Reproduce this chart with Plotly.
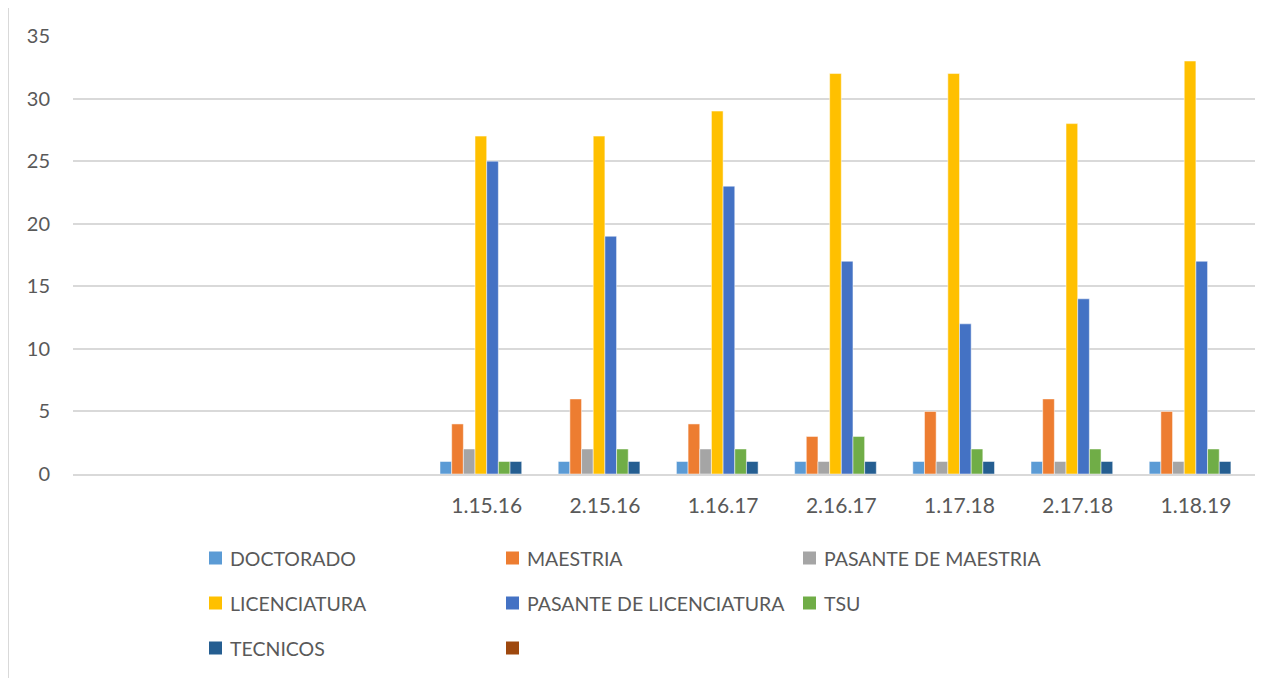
import plotly.graph_objects as go

# ---- data ----
categories = ["", " ", "  ", "1.15.16", "2.15.16", "1.16.17", "2.16.17", "1.17.18", "2.17.18", "1.18.19"]
series_names = ["DOCTORADO", "MAESTRIA", "PASANTE DE MAESTRIA", "LICENCIATURA",
                "PASANTE DE LICENCIATURA", "TSU", "TECNICOS", ""]
doctorado = [None, None, None, 1, 1, 1, 1, 1, 1, 1]
maestria = [None, None, None, 4, 6, 4, 3, 5, 6, 5]
pasante_maestria = [None, None, None, 2, 2, 2, 1, 1, 1, 1]
licenciatura = [None, None, None, 27, 27, 29, 32, 32, 28, 33]
pasante_licenciatura = [None, None, None, 25, 19, 23, 17, 12, 14, 17]
tsu = [None, None, None, 1, 2, 2, 3, 2, 2, 2]
tecnicos = [None, None, None, 1, 1, 1, 1, 1, 1, 1]
blank_series = [None, None, None, 0, 0, 0, 0, 0, 0, 0]
y_ticks = [0, 5, 10, 15, 20, 25, 30, 35]

series_values = [doctorado, maestria, pasante_maestria, licenciatura,
                 pasante_licenciatura, tsu, tecnicos, blank_series]
colors = ["#5B9BD5", "#ED7D31", "#A5A5A5", "#FFC000", "#4472C4", "#70AD47", "#255E91", "#9E480E"]

OFF = 8  # page body margin
W, H = 1266 - OFF, 678 - OFF
L, R, T, B = 73 - OFF, 11, 36 - OFF, 204
PW, PH = W - L - R, H - T - B
FONT = "Lato"
TXT = "#595959"


def px_x(x):
    return (x - OFF - L) / PW


def px_y(y):
    return (H - B - (y - OFF)) / PH


fig = go.Figure()
for name, vals, col in zip(series_names, series_values, colors):
    fig.add_trace(go.Bar(
        x=categories, y=vals, name=name if name else " ",
        marker=dict(color=col, line=dict(color="white", width=0.5 if name else 0)),
        showlegend=False,
    ))

shapes = [dict(type="rect", xref="paper", yref="paper",
               x0=px_x(8.5), x1=px_x(1266 + 20), y0=px_y(678 + 20), y1=px_y(7.5),
               line=dict(color="#D9D9D9", width=1), fillcolor="rgba(0,0,0,0)", layer="below")]
annotations = []

# legend laid out in three columns
col_x = [209, 506, 803]
row_y = [558, 603, 648]
msize = 13
for i, (name, col) in enumerate(zip(series_names, colors)):
    r, c = divmod(i, 3)
    mx, my = col_x[c], row_y[r]
    shapes.append(dict(type="rect", xref="paper", yref="paper",
                       x0=px_x(mx), x1=px_x(mx + msize),
                       y0=px_y(my + msize / 2), y1=px_y(my - msize / 2),
                       line=dict(width=0), fillcolor=col))
    if name:
        annotations.append(dict(text=name, xref="paper", yref="paper",
                                x=px_x(mx + 19), y=px_y(my), xanchor="left", yanchor="middle",
                                showarrow=False, font=dict(family=FONT, size=19.5, color=TXT)))

fig.update_layout(
    width=W, height=H,
    margin=dict(l=L, r=R, t=T, b=B),
    paper_bgcolor="white", plot_bgcolor="white",
    barmode="group", bargap=0.21, bargroupgap=0,
    font=dict(family=FONT, size=19, color=TXT),
    shapes=shapes, annotations=annotations,
    showlegend=False,
)
fig.update_xaxes(type="category", categoryorder="array", categoryarray=categories,
                 showgrid=False, showline=True, linecolor="#D9D9D9", linewidth=1.5,
                 ticks="", ticklabelstandoff=12, tickfont=dict(family=FONT, size=21, color=TXT))
fig.update_yaxes(range=[0, 35], tickvals=y_ticks, showgrid=True, gridcolor="#D9D9D9", gridwidth=1.5,
                 zeroline=False, showline=False, ticks="", ticklabelstandoff=22,
                 tickfont=dict(family=FONT, size=20, color=TXT))

fig.write_html("out.html")
